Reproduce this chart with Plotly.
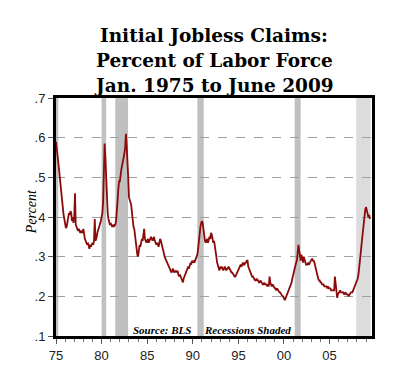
import plotly.graph_objects as go

# Monthly initial claims as % of labor force, Jan 1975 .. Jun 2009
start_year = 1975
claims_1970s = [
    .59, .575, .56, .54, .52, .50, .48, .455, .44, .42, .405, .395,
    .38, .372, .375, .39, .40, .41, .405, .415, .41, .39, .40, .385,
    .40, .46, .38, .375, .37, .365, .37, .365, .36, .365, .36, .36,
    .37, .355, .345, .34, .335, .33, .335, .325, .32, .33, .325, .33,
    .335, .33, .34, .395, .34, .345, .36, .365, .37, .375, .38, .39,
]
claims_1980s = [
    .40, .41, .44, .50, .585, .55, .49, .44, .41, .395, .385, .38,
    .385, .38, .375, .38, .375, .38, .38, .39, .41, .44, .47, .49,
    .49, .51, .52, .53, .54, .545, .56, .575, .61, .58, .55, .50,
    .45, .445, .44, .43, .41, .39, .375, .37, .35, .33, .315, .305,
    .30, .32, .33, .325, .335, .345, .34, .35, .37, .345, .34, .335,
    .34, .345, .335, .34, .345, .35, .345, .34, .345, .35, .34, .335,
    .33, .335, .33, .325, .335, .345, .34, .33, .33, .32, .31, .30,
    .295, .29, .285, .28, .275, .275, .27, .265, .26, .265, .27, .26,
    .265, .26, .265, .26, .265, .255, .25, .255, .245, .245, .24, .235,
    .245, .25, .255, .26, .265, .27, .275, .27, .28, .285, .28, .29,
]
claims_1990s = [
    .285, .29, .285, .29, .295, .30, .305, .32, .345, .365, .375, .385,
    .39, .385, .37, .35, .34, .335, .34, .345, .335, .34, .35, .345,
    .36, .355, .34, .335, .34, .33, .32, .30, .285, .275, .27, .265,
    .275, .27, .275, .27, .265, .27, .275, .27, .265, .27, .27, .275,
    .27, .265, .265, .26, .26, .255, .255, .25, .25, .255, .26, .265,
    .27, .275, .28, .28, .275, .28, .285, .28, .28, .285, .285, .29,
    .29, .275, .27, .26, .255, .255, .25, .25, .245, .245, .24, .24,
    .245, .24, .24, .235, .235, .24, .235, .235, .23, .23, .235, .23,
    .23, .23, .225, .23, .225, .25, .235, .225, .225, .23, .225, .225,
    .22, .22, .215, .22, .215, .215, .21, .21, .205, .205, .20, .20,
]
claims_2000s = [
    .195, .19, .195, .20, .205, .21, .215, .215, .22, .225, .235, .245,
    .255, .265, .275, .28, .285, .29, .305, .33, .315, .30, .29, .305,
    .29, .285, .30, .29, .285, .28, .28, .28, .285, .28, .285, .29,
    .29, .295, .29, .29, .285, .275, .265, .26, .255, .245, .24, .24,
    .235, .235, .23, .23, .23, .225, .225, .225, .225, .22, .225, .22,
    .22, .22, .215, .215, .215, .215, .215, .25, .235, .215, .196, .205,
    .21, .21, .215, .21, .21, .21, .21, .205, .21, .21, .205, .205,
    .205, .20, .205, .205, .21, .21, .21, .215, .22, .22, .225, .23,
    .24, .245, .255, .27, .29, .31, .33, .35, .37, .39, .405, .42,
    .425, .415, .41, .40, .405, .395,
]

# Recessions (decimal years)
rec_start = [1975.0, 1980.0, 1981.5, 1990.5, 2001.17]
rec_end = [1975.25, 1980.5, 1982.9, 1991.2, 2001.83]
pending_start = [2007.92]
pending_end = [2009.5]

tick_years = [1975, 1980, 1985, 1990, 1995, 2000, 2005]
tick_text = ["75", "80", "85", "90", "95", "00", "05"]
y_ticks = [0.1, 0.2, 0.3, 0.4, 0.5, 0.6, 0.7]
y_text = [".1", ".2", ".3", ".4", ".5", ".6", ".7"]

values = claims_1970s + claims_1980s + claims_1990s + claims_2000s
xs = [start_year + i / 12 for i in range(len(values))]

fig = go.Figure()
fig.add_trace(go.Scatter(x=xs, y=values, mode="lines",
                         line=dict(color="#8b0a0a", width=1.8),
                         hoverinfo="skip", showlegend=False))

for s, e in zip(rec_start, rec_end):
    fig.add_vrect(x0=s, x1=e, fillcolor="#c0c0c0", line_width=0, layer="below", opacity=1)
for s, e in zip(pending_start, pending_end):
    fig.add_vrect(x0=s, x1=e, fillcolor="#dcdcdc", line_width=0, layer="below", opacity=1)

tick_font = dict(family="Liberation Sans, Arial, sans-serif", size=13, color="#222")
fig.update_xaxes(range=[1975, 2009.65], tickmode="array", tickvals=tick_years, ticktext=tick_text,
                 ticks="outside", ticklen=5, tickcolor="#555", tickwidth=1,
                 minor=dict(dtick=1, ticks="outside", ticklen=3, tickcolor="#777", showgrid=False),
                 showgrid=False, zeroline=False, showline=True, mirror=True, automargin=False,
                 linecolor="black", linewidth=3, tickfont=tick_font)
fig.update_yaxes(range=[0.1, 0.7], tickmode="array", tickvals=y_ticks, ticktext=y_text,
                 ticks="outside", ticklen=5, tickcolor="#555", tickwidth=1,
                 showgrid=True, gridcolor="#a0a0a0", griddash="dash", gridwidth=1,
                 zeroline=False, showline=True, mirror=True, automargin=False,
                 linecolor="black", linewidth=3, tickfont=tick_font)

fig.add_annotation(text="Percent", xref="paper", yref="paper", x=0, y=0.52, xshift=-25,
                   textangle=-90, showarrow=False, xanchor="center", yanchor="middle",
                   font=dict(family="Liberation Serif, serif", size=14, color="black", style="italic"))

title_font = dict(family="DejaVu Serif, serif", size=18.5, color="black", weight="bold")
for i, line in enumerate(["Initial Jobless Claims:", "Percent of Labor Force", "Jan. 1975 to June 2009"]):
    fig.add_annotation(text=line, xref="paper", yref="paper", x=0.5, y=1.0,
                       yshift=63 - 25 * i, showarrow=False, font=title_font,
                       xanchor="center", yanchor="middle")

note_font = dict(family="Liberation Serif, serif", size=11, color="black", style="italic", weight="bold")
fig.add_annotation(text="Source: BLS", x=1986.6, y=0.115, xref="x", yref="y", showarrow=False,
                   font=note_font, xanchor="center", yanchor="middle")
fig.add_annotation(text="Recessions Shaded", x=1996.05, y=0.115, xref="x", yref="y", showarrow=False,
                   font=note_font, xanchor="center", yanchor="middle")

fig.update_layout(width=400, height=383, margin=dict(l=48, r=36, t=90, b=55),
                  paper_bgcolor="white", plot_bgcolor="white")

fig.write_html("out.html")
